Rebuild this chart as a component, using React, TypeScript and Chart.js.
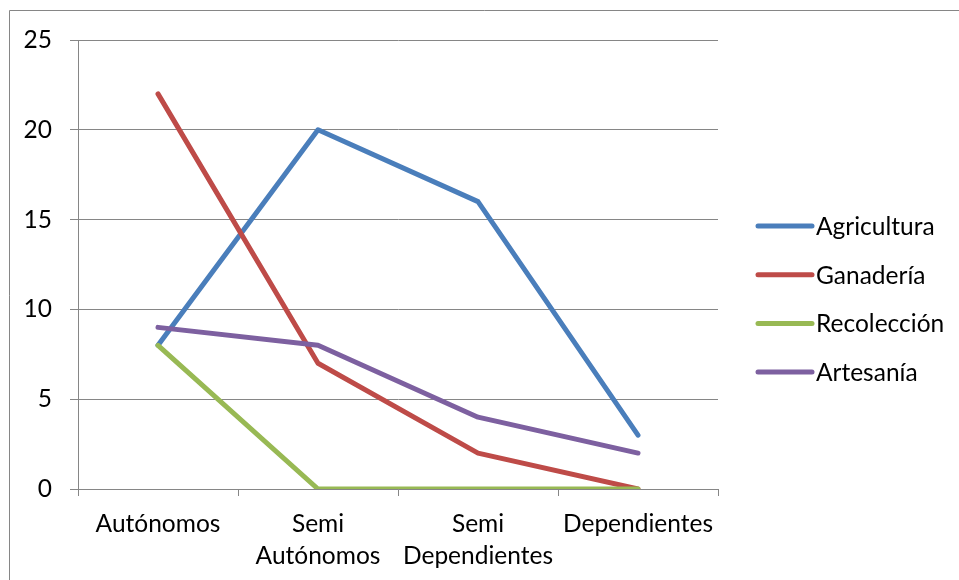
import React, { useEffect, useRef } from "react";
import { Chart, registerables } from "chart.js";

Chart.register(...registerables);

const categories: (string | string[])[] = [
  "Autónomos",
  ["Semi", "Autónomos"],
  ["Semi", "Dependientes"],
  "Dependientes",
];
const agricultura = [8, 20, 16, 3];
const ganaderia = [22, 7, 2, 0];
const recoleccion = [8, 0, 0, 0];
const artesania = [9, 8, 4, 2];
const seriesNames = ["Agricultura", "Ganadería", "Recolección", "Artesanía"];
const seriesColors = ["#4A7EBB", "#BE4B48", "#98B954", "#7D60A0"];

const FONT = "Lato";
const FONT_SIZE = 24.5;

const framePlugin = {
  id: "frame",
  beforeDraw(chart: any) {
    const ctx = chart.ctx;
    ctx.save();
    ctx.fillStyle = "#fff";
    ctx.fillRect(0, 0, chart.width, chart.height);
    ctx.strokeStyle = "#868686";
    ctx.lineWidth = 1;
    ctx.beginPath();
    ctx.moveTo(9.5, chart.height);
    ctx.lineTo(9.5, 10.5);
    ctx.lineTo(chart.width, 10.5);
    ctx.stroke();
    ctx.restore();
  },
};

const legendPlugin = {
  id: "customLegend",
  afterDraw(chart: any) {
    const ctx = chart.ctx;
    const datasets = chart.data.datasets;
    const x0 = 758;
    const x1 = 812;
    const startY = 226;
    const step = 48.7;
    ctx.save();
    ctx.font = `${FONT_SIZE}px ${FONT}`;
    ctx.textBaseline = "middle";
    ctx.textAlign = "left";
    datasets.forEach((ds: any, i: number) => {
      const y = startY + i * step;
      ctx.strokeStyle = ds.borderColor;
      ctx.lineWidth = 5;
      ctx.lineCap = "round";
      ctx.beginPath();
      ctx.moveTo(x0, y);
      ctx.lineTo(x1, y);
      ctx.stroke();
      ctx.fillStyle = "#000";
      ctx.fillText(ds.label, x1 + 4, y + 1);
    });
    ctx.restore();
  },
};

export default function App() {
  const canvasRef = useRef<HTMLCanvasElement | null>(null);

  useEffect(() => {
    if (!canvasRef.current) return;
    const values = [agricultura, ganaderia, recoleccion, artesania];
    const chart = new Chart(canvasRef.current, {
      type: "line",
      data: {
        labels: categories,
        datasets: values.map((v, i) => ({
          label: seriesNames[i],
          data: v,
          borderColor: seriesColors[i],
          backgroundColor: seriesColors[i],
          borderWidth: 5,
          borderCapStyle: "round",
          borderJoinStyle: "round",
          pointRadius: 0,
          pointHoverRadius: 0,
          tension: 0,
          fill: false,
          order: values.length - 1 - i,
        })),
      },
      options: {
        responsive: false,
        animation: false,
        events: [],
        layout: { padding: { left: 0, top: 40, right: 959 - 718, bottom: 0 } },
        plugins: {
          legend: { display: false },
          tooltip: { enabled: false },
        },
        font: { family: FONT, size: FONT_SIZE },
        scales: {
          x: {
            type: "category",
            offset: true,
            grid: {
              offset: true,
              drawOnChartArea: false,
              drawTicks: true,
              tickLength: 7,
              color: "#868686",
            },
            border: { display: true, color: "#868686", width: 1 },
            ticks: {
              color: "#000",
              font: { family: FONT, size: FONT_SIZE, lineHeight: 1.31 },
              padding: 12,
              maxRotation: 0,
              minRotation: 0,
              autoSkip: false,
            },
            afterFit(scale: any) {
              scale.height = 580 - 489;
            },
          },
          y: {
            min: 0,
            max: 25,
            ticks: {
              stepSize: 5,
              color: "#000",
              font: { family: FONT, size: FONT_SIZE },
              padding: 18,
            },
            grid: {
              color: "#868686",
              tickLength: 8,
              drawTicks: true,
            },
            border: { display: true, color: "#868686", width: 1 },
            afterFit(scale: any) {
              scale.width = 78;
            },
          },
        },
      } as any,
      plugins: [framePlugin, legendPlugin],
    });
    return () => chart.destroy();
  }, []);

  return (
    <div style={{ position: "absolute", left: 0, top: 0, width: 959, height: 580 }}>
      <canvas ref={canvasRef} width={959} height={580} style={{ display: "block" }} />
    </div>
  );
}
